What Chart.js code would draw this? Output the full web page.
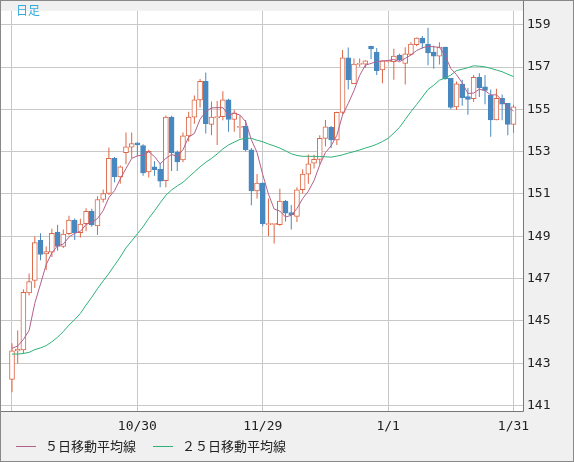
<!DOCTYPE html>
<html>
<head>
<meta charset="utf-8">
<script src="https://cdn.jsdelivr.net/npm/chart.js@4.4.1/dist/chart.umd.min.js"></script>
<style>
html, body { margin: 0; padding: 0; background: #f0f0f0; }
</style>
</head>
<body>
<canvas id="chartDaily" width="574" height="462"></canvas>
<script>
// daily candles, 9/30 .. 1/31
const open = [
    142.23, 143.58, 143.63, 146.32, 146.91, 148.81, 148.16, 148.25, 149.20, 148.52,
    149.12, 149.77, 149.17, 149.60, 150.18, 149.49, 150.74, 151.02, 152.69, 151.81,
    152.95, 153.21, 153.42, 153.29, 152.04, 152.28, 152.17, 151.63, 154.63, 152.97,
    152.61, 153.75, 154.63, 155.45, 156.32, 154.29, 154.60, 154.66, 155.45, 154.52,
    154.15, 154.20, 153.09, 151.14, 151.52, 149.55, 149.56, 149.55, 150.66, 150.12,
    149.94, 151.20, 151.94, 152.45, 152.63, 153.63, 154.15, 153.55, 154.86, 157.44,
    156.21, 157.12, 157.14, 157.98, 157.71, 156.86, 157.27, 157.25, 157.55, 157.17,
    157.60, 158.06, 158.37, 158.09, 157.71, 157.52, 157.94, 156.48, 155.12, 156.20,
    155.60, 155.51, 156.51, 156.06, 155.68, 154.50, 155.52, 155.28, 154.29
];
const high = [
    143.94, 144.55, 146.50, 147.24, 149.00, 149.14, 148.52, 149.35, 149.55, 149.32,
    149.97, 149.84, 149.83, 150.32, 150.30, 150.89, 151.21, 153.20, 152.75, 152.35,
    153.90, 153.90, 153.45, 153.35, 153.09, 152.55, 152.47, 154.71, 154.70, 153.05,
    153.90, 154.89, 155.66, 156.43, 156.74, 155.37, 155.40, 155.86, 155.50, 154.97,
    154.71, 154.50, 153.17, 151.94, 151.55, 150.78, 149.62, 151.25, 150.71, 150.48,
    151.32, 152.17, 152.86, 152.85, 153.78, 154.50, 154.21, 154.89, 157.81, 157.93,
    157.40, 157.40, 157.32, 158.01, 157.90, 157.32, 157.32, 157.86, 157.63, 157.94,
    158.17, 158.40, 158.47, 158.86, 158.01, 158.17, 157.96, 156.48, 156.32, 156.40,
    156.01, 156.63, 156.71, 156.63, 155.94, 155.97, 155.70, 155.30, 155.22
];
const low = [
    141.63, 142.98, 143.45, 146.20, 146.55, 147.86, 147.40, 148.02, 148.32, 148.44,
    149.05, 148.82, 148.94, 149.24, 149.45, 149.06, 150.60, 150.95, 151.55, 151.48,
    152.40, 152.70, 152.79, 151.86, 151.78, 151.86, 151.32, 151.32, 152.09, 152.09,
    152.50, 153.48, 154.32, 155.09, 153.86, 153.78, 153.32, 154.48, 153.94, 153.94,
    153.63, 153.01, 150.47, 150.78, 149.47, 149.01, 148.66, 149.50, 149.70, 149.32,
    149.68, 151.02, 151.48, 152.20, 152.40, 153.24, 153.17, 153.32, 154.78, 155.94,
    156.20, 157.02, 156.95, 157.38, 156.63, 156.24, 157.22, 156.40, 157.29, 156.17,
    157.55, 157.98, 157.86, 157.09, 156.92, 157.12, 156.40, 155.01, 154.97, 155.17,
    154.75, 155.35, 155.58, 155.24, 153.71, 154.48, 154.48, 153.78, 153.89
];
const close = [
    143.58, 143.66, 146.35, 146.86, 148.70, 148.14, 148.27, 149.14, 148.52, 149.10,
    149.77, 149.17, 149.58, 150.18, 149.54, 150.74, 151.02, 152.68, 151.81, 152.28,
    153.23, 153.38, 153.32, 152.00, 153.01, 152.15, 151.60, 154.63, 152.94, 152.52,
    153.75, 154.63, 155.45, 156.32, 154.32, 154.63, 154.66, 155.45, 154.52, 154.83,
    154.20, 153.09, 151.14, 151.52, 149.60, 149.58, 149.60, 150.66, 150.09, 150.01,
    151.20, 151.94, 152.43, 152.64, 153.63, 154.17, 153.55, 154.86, 157.44, 156.40,
    157.14, 157.18, 157.29, 157.86, 156.83, 157.29, 157.29, 157.52, 157.32, 157.62,
    158.09, 158.37, 158.13, 157.67, 157.52, 157.94, 156.44, 155.09, 156.21, 155.55,
    155.47, 156.51, 156.01, 155.89, 154.50, 155.52, 155.24, 154.29, 155.12
];

// moving averages
const ma5 = [
    143.70, 143.81, 144.12, 144.55, 145.83, 146.74, 147.66, 148.22, 148.55, 148.63,
    148.96, 149.14, 149.23, 149.56, 149.65, 149.84, 150.21, 150.83, 151.16, 151.71,
    152.20, 152.68, 152.80, 152.84, 152.99, 152.77, 152.42, 152.68, 152.87, 152.77,
    153.09, 153.69, 153.86, 154.53, 154.89, 155.07, 155.08, 155.08, 154.72, 154.82,
    154.73, 154.42, 153.56, 152.96, 151.91, 150.99, 150.29, 150.19, 149.91, 149.99,
    150.31, 150.78, 151.13, 151.64, 152.37, 152.96, 153.28, 153.77, 154.73, 155.28,
    155.88, 156.60, 157.09, 157.17, 157.26, 157.29, 157.31, 157.36, 157.25, 157.41,
    157.57, 157.78, 157.91, 157.98, 157.96, 157.93, 157.54, 156.93, 156.64, 156.25,
    155.75, 155.77, 155.95, 155.89, 155.68, 155.69, 155.43, 155.09, 154.93
];
const ma25 = [
    143.43, 143.43, 143.46, 143.51, 143.64, 143.72, 143.83, 144.01, 144.23, 144.49,
    144.80, 145.06, 145.35, 145.75, 146.12, 146.52, 146.89, 147.24, 147.63, 148.02,
    148.45, 148.78, 149.12, 149.45, 149.85, 150.20, 150.58, 150.94, 151.19, 151.38,
    151.55, 151.80, 152.04, 152.28, 152.50, 152.68, 152.89, 153.13, 153.32, 153.45,
    153.58, 153.63, 153.63, 153.54, 153.47, 153.36, 153.27, 153.17, 153.04, 152.90,
    152.82, 152.78, 152.78, 152.78, 152.77, 152.76, 152.74, 152.79, 152.85, 152.93,
    153.00, 153.08, 153.17, 153.25, 153.35, 153.48, 153.63, 153.88, 154.15, 154.52,
    154.89, 155.23, 155.58, 155.94, 156.14, 156.38, 156.48, 156.62, 156.83, 156.90,
    156.97, 157.06, 157.04, 157.01, 156.94, 156.86, 156.78, 156.66, 156.55
];

const tickIdx = [0, 22, 44, 66, 88];
const tickLabels = ['', '10/30', '11/29', '1/1', '1/31'];
const yTicks = [141, 143, 145, 147, 149, 151, 153, 155, 157, 159];

const COLORS = {
    up: 'rgb(222, 102, 70)',
    down: 'rgb(72, 136, 192)',
    ma5: 'rgb(180, 96, 140)',
    ma25: 'rgb(46, 178, 120)',
    grid: '#c8c8c8',
    text: '#222'
};

const idx = close.map((c, i) => i);
const isUp = idx.map(i => close[i] >= open[i]);
const candleColor = idx.map(i => isUp[i] ? COLORS.up : COLORS.down);

const tickFont = { family: '"DejaVu Sans Mono", monospace', size: 13 };

const framePlugin = {
    id: 'frame',
    beforeDraw(chart) {
        const { ctx, chartArea: a, width, height } = chart;
        ctx.save();
        ctx.fillStyle = '#f0f0f0';
        ctx.fillRect(0, 0, width, height);
        ctx.fillStyle = '#fff';
        ctx.fillRect(a.left, a.top, a.right - a.left, a.bottom - a.top);
        ctx.restore();
    },
    afterDraw(chart) {
        const { ctx, chartArea: a, width, height } = chart;
        ctx.save();
        ctx.lineWidth = 1;
        ctx.strokeStyle = '#777';
        ctx.beginPath();
        ctx.moveTo(a.right - 0.5, 0);
        ctx.lineTo(a.right - 0.5, Math.round(a.bottom) - 0.5);
        ctx.lineTo(0, Math.round(a.bottom) - 0.5);
        ctx.stroke();
        ctx.strokeStyle = '#888';
        ctx.strokeRect(0.5, 0.5, width - 1, height - 1);

        // period label
        ctx.fillStyle = '#33aadd';
        ctx.font = '12px "Noto Sans CJK JP"';
        ctx.textBaseline = 'middle';
        ctx.fillText('日足', 16, 10);

        // legend for the two averages
        ctx.font = '13px "Noto Sans CJK JP"';
        let x = 16;
        const y = 446.5;
        chart.data.datasets.filter(d => d.type === 'line').forEach(d => {
            ctx.strokeStyle = d.borderColor;
            ctx.beginPath();
            ctx.moveTo(x, y);
            ctx.lineTo(x + 20, y);
            ctx.stroke();
            ctx.fillStyle = COLORS.text;
            ctx.fillText(d.label, x + 29, y);
            x += 29 + ctx.measureText(d.label).width + 17;
        });
        ctx.restore();
    }
};

const config = {
    type: 'bar',
    data: {
        datasets: [
            {
                type: 'line',
                label: '５日移動平均線',
                data: idx.map(i => ({ x: i, y: ma5[i] })),
                borderColor: COLORS.ma5,
                backgroundColor: COLORS.ma5,
                borderWidth: 1,
                pointRadius: 0,
                tension: 0,
                order: 1
            }, {
                type: 'line',
                label: '２５日移動平均線',
                data: idx.map(i => ({ x: i, y: ma25[i] })),
                borderColor: COLORS.ma25,
                backgroundColor: COLORS.ma25,
                borderWidth: 1,
                pointRadius: 0,
                tension: 0,
                order: 2
            }, {
                label: 'body',
                data: idx.map(i => ({ x: i, y: [open[i], close[i]] })),
                backgroundColor: idx.map(i => isUp[i] ? '#fff' : COLORS.down),
                borderColor: candleColor,
                borderWidth: 1,
                borderSkipped: false,
                barThickness: 5,
                minBarLength: 1,
                grouped: false,
                order: 3
            }, {
                label: 'wick',
                data: idx.map(i => ({ x: i, y: [low[i], high[i]] })),
                backgroundColor: candleColor,
                barThickness: 1,
                inflateAmount: 0,
                grouped: false,
                order: 4
            }
        ]
    },
    options: {
        responsive: false,
        animation: false,
        events: [],
        layout: { padding: { left: 1, top: 1, right: 0, bottom: 0 } },
        plugins: {
            legend: { display: false },
            tooltip: { enabled: false }
        },
        scales: {
            x: {
                type: 'linear',
                min: -1.93,
                max: 89.84,
                offset: false,
                afterBuildTicks: s => { s.ticks = tickIdx.map(v => ({ value: v })); },
                afterFit: s => { s.height = 50.3; },
                grid: { color: COLORS.grid, drawTicks: false, offset: false },
                border: { display: false },
                ticks: {
                    autoSkip: false,
                    maxRotation: 0,
                    padding: 7,
                    color: COLORS.text,
                    font: tickFont,
                    callback: (v, i) => tickLabels[i]
                }
            },
            y: {
                position: 'right',
                min: 140.705,
                max: 159.66,
                afterBuildTicks: s => { s.ticks = yTicks.map(v => ({ value: v })); },
                afterFit: s => { s.width = 50; },
                grid: { color: COLORS.grid, drawTicks: false },
                border: { display: false },
                ticks: {
                    padding: 3,
                    color: COLORS.text,
                    font: tickFont,
                    callback: v => String(v)
                }
            }
        }
    },
    plugins: [framePlugin]
};

let ctx = document.getElementById('chartDaily').getContext('2d');
new Chart(ctx, config);
</script>
</body>
</html>
